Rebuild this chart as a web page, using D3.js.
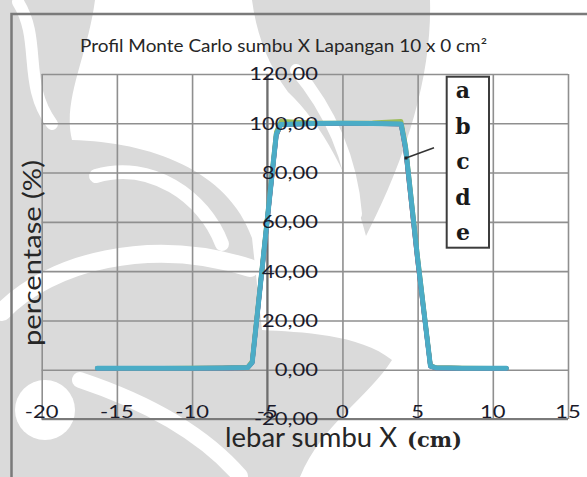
<!DOCTYPE html>
<html>
<head>
<meta charset="utf-8">
<script src="https://cdn.jsdelivr.net/npm/d3@7"></script>
<style>
  html, body { margin: 0; padding: 0; background: #ffffff; }
  svg { display: block; }
</style>
</head>
<body>
<svg id="chart" width="587" height="477"></svg>
<script>
// Beam profile along the X axis (field 10 x 0 cm²), five Monte Carlo runs a–e
const seriesNames = ["a", "b", "c", "d", "e"];
const seriesColors = ["#4F81BD", "#C0504D", "#9BBB59", "#8064A2", "#4BACC6"];

const xCm = [-16.3, -14, -12, -10, -8, -6.3, -6.0, -4.4, -4.1, -2, 0, 2, 3.9, 4.2, 5.0, 5.85, 6.2, 8, 10, 10.9];

const valuesA = [0.6, 0.6, 0.6, 0.6, 0.7, 0.9, 3.0, 95.5, 99.6, 100, 100, 100, 99.8, 90, 45, 1.5, 0.8, 0.6, 0.6, 0.6];
const valuesB = [0.5, 0.5, 0.6, 0.6, 0.7, 0.9, 3.2, 95.0, 99.5, 99.9, 100, 99.9, 99.7, 89, 44, 1.6, 0.8, 0.6, 0.5, 0.5];
const valuesC = [0.6, 0.6, 0.6, 0.7, 0.7, 1.0, 3.5, 96.5, 100.8, 100.2, 100.1, 100.2, 100.8, 91, 46, 1.8, 0.9, 0.7, 0.6, 0.6];
const valuesD = [0.5, 0.6, 0.6, 0.6, 0.6, 0.8, 2.8, 95.2, 99.4, 99.8, 99.9, 99.9, 99.6, 89.5, 44.5, 1.4, 0.7, 0.6, 0.5, 0.5];
const valuesE = [0.6, 0.6, 0.6, 0.6, 0.7, 0.9, 3.0, 95.5, 99.5, 99.9, 100, 99.9, 99.7, 90, 45, 1.5, 0.8, 0.6, 0.6, 0.6];
const seriesValues = [valuesA, valuesB, valuesC, valuesD, valuesE];

const xTicks = [-20, -15, -10, -5, 0, 5, 10, 15];
const yTicks = [-20, 0, 20, 40, 60, 80, 100, 120];
const yTickLabels = ["-20,00", "0,00", "20,00", "40,00", "60,00", "80,00", "100,00", "120,00"];

const titleText = "Profil Monte Carlo sumbu X Lapangan  10 x 0 cm²";
const yTitleText = "percentase (%)";
const xTitleText = "lebar sumbu X";
const xUnitText = "(cm)";

const sansFont = "Lato, 'Open Sans', sans-serif";
const serifFont = "'DejaVu Serif', 'Liberation Serif', serif";

const svg = d3.select("#chart");

const x = d3.scaleLinear().domain([-20, 15]).range([41.7, 568]);
const y = d3.scaleLinear().domain([-20, 120]).range([419, 74]);

// widen glyphs horizontally so the text keeps its wide look
function stretchTo(sel, width) {
  sel.attr("textLength", width).attr("lengthAdjust", "spacingAndGlyphs");
}
function stretchBy(sel, k) {
  sel.each(function () {
    const w = this.getComputedTextLength();
    this.setAttribute("textLength", w * k);
    this.setAttribute("lengthAdjust", "spacingAndGlyphs");
  });
}

// faint page watermark behind the chart
const wm = svg.append("g").attr("class", "watermark");
const wmGray = "#dadada";
wm.append("path")
  .attr("d", "M0,0 H95 C88,55 62,100 72,140 C150,142 228,170 252,238 L262,330 C300,332 360,334 392,360 C368,398 322,424 300,477 H0 Z")
  .attr("fill", wmGray);
wm.append("path")
  .attr("d", "M252,0 H430 C432,70 410,150 366,236 C352,180 322,124 288,92 C266,62 256,30 252,0 Z")
  .attr("fill", wmGray);
// white swirls cut through the gray
const wmWhite = wm.append("g").attr("fill", "none").attr("stroke", "#ffffff").attr("stroke-linecap", "round");
wmWhite.append("path").attr("d", "M18,2 C42,40 22,84 52,124").attr("stroke-width", 12);
wmWhite.append("path").attr("d", "M96,176 C150,160 204,196 222,244").attr("stroke-width", 14);
wmWhite.append("path").attr("d", "M2,312 C50,262 150,236 250,268").attr("stroke-width", 18);
wmWhite.append("path").attr("d", "M80,380 C140,400 200,430 240,476").attr("stroke-width", 16);
wmWhite.append("path").attr("d", "M296,70 C330,110 352,160 356,214").attr("stroke-width", 12);
wm.append("circle").attr("cx", 45).attr("cy", 410).attr("r", 30).attr("fill", "#ffffff");

// chart frame
svg.append("path")
  .attr("d", "M11.5,600 L11.5,14 L700,14")
  .attr("fill", "none")
  .attr("stroke", "#7a7a7a")
  .attr("stroke-width", 2.5);

// title
svg.append("text")
  .attr("x", 80).attr("y", 52)
  .attr("font-family", sansFont).attr("font-size", 17)
  .attr("fill", "#262626")
  .text(titleText)
  .call(stretchTo, 407);

// gridlines
const grid = svg.append("g");
grid.append("g")
  .attr("transform", `translate(0,${y(-20)})`)
  .call(d3.axisBottom(x).tickValues(xTicks).tickSize(-(y(-20) - y(120))).tickFormat(""))
  .call(g => g.select(".domain").remove())
  .call(g => g.selectAll("line").attr("stroke", "#8f8f8f").attr("stroke-width", 1.6));
grid.append("g")
  .attr("transform", `translate(${x(-20)},0)`)
  .call(d3.axisLeft(y).tickValues(yTicks).tickSize(-(x(15) - x(-20))).tickFormat(""))
  .call(g => g.select(".domain").remove())
  .call(g => g.selectAll("line").attr("stroke", "#8f8f8f").attr("stroke-width", 1.6));

// axis lines: vertical axis crosses at x = -5, horizontal at the bottom
svg.append("line")
  .attr("x1", x(-5)).attr("x2", x(-5)).attr("y1", y(120)).attr("y2", y(-20))
  .attr("stroke", "#6e6e6e").attr("stroke-width", 2);
svg.append("line")
  .attr("x1", x(-20)).attr("x2", x(15)).attr("y1", y(-20)).attr("y2", y(-20))
  .attr("stroke", "#7a7a7a").attr("stroke-width", 2);

// series lines
const line = d3.line()
  .x((d, i) => x(xCm[i]))
  .y(d => y(d))
  .curve(d3.curveLinear);

svg.append("g").selectAll("path")
  .data(seriesValues)
  .join("path")
  .attr("d", d => line(d))
  .attr("fill", "none")
  .attr("stroke", (d, i) => seriesColors[i])
  .attr("stroke-width", (d, i) => i === 4 ? 5 : 4.5)
  .attr("stroke-linejoin", "round")
  .attr("stroke-linecap", "round");

// y tick labels, right-aligned over the axis
svg.append("g")
  .selectAll("text")
  .data(yTicks)
  .join("text")
  .attr("x", 318)
  .attr("y", d => y(d))
  .attr("dy", "0.36em")
  .attr("text-anchor", "end")
  .attr("font-family", sansFont).attr("font-size", 18)
  .attr("fill", "#1a1a2a")
  .text((d, i) => yTickLabels[i])
  .call(stretchBy, 1.22);

// x tick labels, sitting on the bottom line
svg.append("g")
  .selectAll("text")
  .data(xTicks)
  .join("text")
  .attr("x", d => x(d))
  .attr("y", 418)
  .attr("text-anchor", "middle")
  .attr("font-family", sansFont).attr("font-size", 18)
  .attr("fill", "#1a1a2a")
  .text(d => d)
  .call(stretchBy, 1.22);

// axis titles
svg.append("text")
  .attr("x", 225).attr("y", 447)
  .attr("font-family", sansFont).attr("font-size", 26)
  .attr("fill", "#262626")
  .text(xTitleText)
  .call(stretchTo, 172);
svg.append("text")
  .attr("x", 407).attr("y", 447)
  .attr("font-family", serifFont).attr("font-size", 20).attr("font-weight", "bold")
  .attr("fill", "#262626")
  .text(xUnitText)
  .call(stretchTo, 55);

svg.append("text")
  .attr("transform", "translate(41,346) rotate(-90)")
  .attr("font-family", sansFont).attr("font-size", 25)
  .attr("fill", "#262626")
  .text(yTitleText)
  .call(stretchTo, 186);

// legend box with series letters
const legend = svg.append("g");
legend.append("rect")
  .attr("x", 446.7).attr("y", 76.7)
  .attr("width", 42.3).attr("height", 171)
  .attr("fill", "#ffffff")
  .attr("stroke", "#3c3c3c").attr("stroke-width", 2);
legend.selectAll("text")
  .data(seriesNames)
  .join("text")
  .attr("x", 463)
  .attr("y", (d, i) => 98 + i * 35.5)
  .attr("text-anchor", "middle")
  .attr("font-family", serifFont).attr("font-size", 22).attr("font-weight", "bold")
  .attr("fill", "#1a1a1a")
  .text(d => d);

// pointer from the legend to the curves
svg.append("line")
  .attr("x1", 434).attr("y1", 147.7).attr("x2", 406).attr("y2", 158)
  .attr("stroke", "#333333").attr("stroke-width", 1.5);
svg.append("rect")
  .attr("x", 404.5).attr("y", 156.5).attr("width", 3).attr("height", 3)
  .attr("fill", "#222222");
</script>
</body>
</html>
